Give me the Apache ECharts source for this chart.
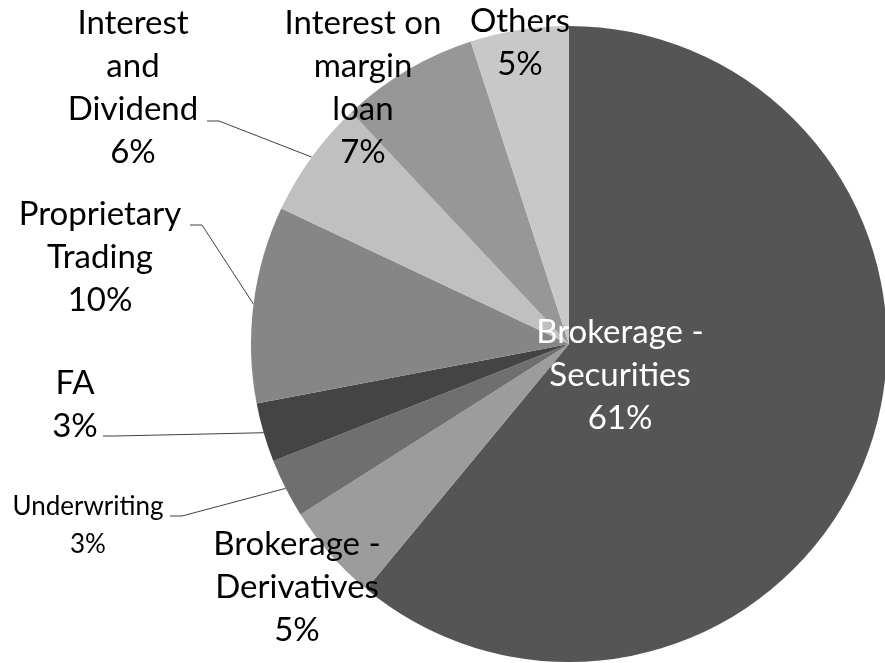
<!DOCTYPE html>
<html lang="en">
<head>
	<meta charset="UTF-8">
	<title>Revenue breakdown</title>
	<style>
		html,body{margin:0px;padding:0px;background:#fff;}
		#chart{width:885px;height:663px;}
	</style>
</head>
<body>
	<div id="chart"></div>
</body>
</html>
<script type="text/javascript" src="https://cdn.jsdelivr.net/npm/echarts@6/dist/echarts.min.js"></script>
<script type="text/javascript">
	// slices, clockwise from 12 o'clock
	var names = ['Brokerage -\nSecurities', 'Brokerage -\nDerivatives', 'Underwriting', 'FA',
		'Proprietary\nTrading', 'Interest\nand\nDividend', 'Interest on\nmargin\nloan', 'Others'];
	var shares = [61, 5, 3, 3, 10, 6, 7, 5];

	var colors = ['#555555', '#9c9c9c', '#6f6f6f', '#444444', '#868686', '#c0c0c0', '#979797', '#c8c8c8'];
	// label centres (px)
	var labelPos = [[620, 375], [297, 587], [88, 526], [75, 405], [100, 257], [133, 88], [363, 88], [520, 43]];
	// where the leader line meets the label text (null = no leader)
	var leaderEnd = [null, null, [170, 516], [103, 436], [190, 225], [207, 121], null, null];

	var font = 'Lato';
	var data = shares.map(function(v, i){
		return {
			name: names[i],
			value: v,
			itemStyle: {color: colors[i]},
			label: {
				position: i == 0 ? 'inside' : 'outside',
				color: i == 0 ? '#fff' : '#000',
				fontSize: i == 2 ? 26 : 33,
				lineHeight: i == 2 ? 38 : 43
			},
			labelLine: {show: leaderEnd[i] != null}
		};
	});

	var option = {
		animation: false,
		series: [{
			type: 'pie',
			center: [569, 344],
			radius: 318,
			startAngle: 90,
			clockwise: true,
			avoidLabelOverlap: false,
			data: data,
			label: {
				show: true,
				fontFamily: font,
				align: 'center',
				overflow: 'none',
				formatter: function(p){ return p.name + '\n' + p.value + '%'; }
			},
			labelLine: {
				length: 20,
				length2: 20,
				lineStyle: {color: '#404040', width: 1}
			},
			labelLayout: function(p){
				var i = p.dataIndex;
				var pos = labelPos[i];
				var out = {x: pos[0], y: pos[1], align: 'center', verticalAlign: 'middle'};
				var end = leaderEnd[i];
				if(end && p.labelLinePoints){
					out.labelLinePoints = [p.labelLinePoints[0], [end[0] + 12, end[1]], end];
				}
				return out;
			}
		}]
	};
	var myChart = echarts.init(document.getElementById('chart'));
	myChart.setOption(option);
</script>
